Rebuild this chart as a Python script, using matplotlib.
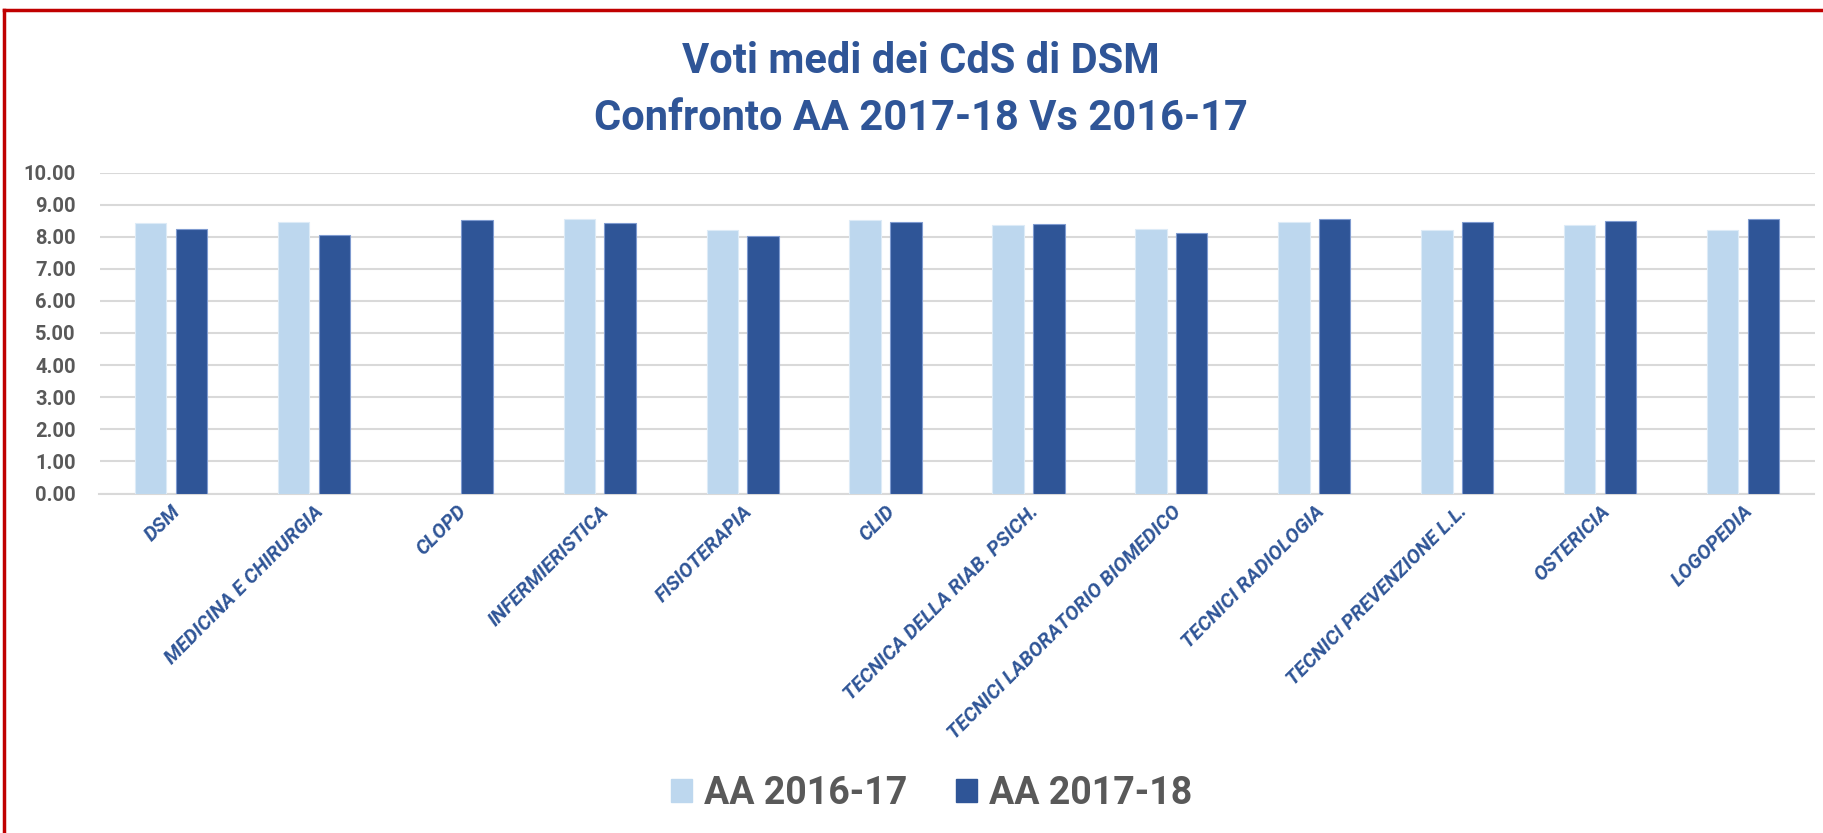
import matplotlib
matplotlib.use("Agg")
import matplotlib.pyplot as plt
import numpy as np
from matplotlib.lines import Line2D
from matplotlib.patches import Patch

categories = ["DSM", "MEDICINA E CHIRURGIA", "CLOPD", "INFERMIERISTICA", "FISIOTERAPIA",
              "CLID", "TECNICA DELLA RIAB. PSICH.", "TECNICI LABORATORIO BIOMEDICO",
              "TECNICI RADIOLOGIA", "TECNICI PREVENZIONE L.L.", "OSTERICIA", "LOGOPEDIA"]
aa_2016_17 = [8.42, 8.45, np.nan, 8.56, 8.21, 8.53, 8.35, 8.24, 8.45, 8.21, 8.35, 8.21]
aa_2017_18 = [8.24, 8.06, 8.53, 8.42, 8.03, 8.45, 8.39, 8.11, 8.56, 8.45, 8.49, 8.56]
yticks = [0, 1, 2, 3, 4, 5, 6, 7, 8, 9, 10]
series_names = ["AA 2016-17", "AA 2017-18"]
title = "Voti medi dei CdS di DSM\nConfronto AA 2017-18 Vs 2016-17"

LIGHT = "#BDD7EE"
DARK = "#2F5597"
GRAY = "#595959"
FONT = ["Roboto", "DejaVu Sans"]

fig = plt.figure(figsize=(18.23, 8.33), dpi=100)
ax = fig.add_axes([99.5 / 1823, 1 - 493.5 / 833, (1814.5 - 99.5) / 1823, (493.5 - 172.5) / 833])

x = np.arange(len(categories))
w = 0.22
off = 0.1425
ax.bar(x - off, aa_2016_17, width=w, color=LIGHT, edgecolor="#DDEBF7", linewidth=0.8, zorder=3)
ax.bar(x + off, aa_2017_18, width=w, color=DARK, edgecolor="#7F9BD0", linewidth=0.8, zorder=3)

ax.set_xlim(-0.5, len(categories) - 0.5)
ax.set_ylim(0, 10)
ax.set_yticks(yticks)
ax.set_yticklabels([f"{v:.2f}" for v in yticks], family=FONT, fontsize=14.5,
                   fontweight="bold", color=GRAY)
ax.yaxis.grid(True, color="#D9D9D9", linewidth=1.5, zorder=0)
ax.set_axisbelow(True)
for s in ["left", "right", "top"]:
    ax.spines[s].set_visible(False)
ax.spines["bottom"].set_color("#D9D9D9")
ax.spines["bottom"].set_linewidth(1.5)
ax.tick_params(axis="both", length=0)
ax.tick_params(axis="y", pad=17)

ax.set_xticks(x)
ax.set_xticklabels(categories, rotation=45, ha="right", rotation_mode="anchor",
                   family=FONT, fontsize=14.5, fontstyle="italic", fontweight="bold",
                   color=DARK)
ax.tick_params(axis="x", pad=6)

fig.text(0.505, 1 - 90 / 833, title, ha="center", va="center", family=FONT,
         fontsize=30, fontweight="bold", color=DARK, linespacing=1.5)

handles = [Patch(facecolor=LIGHT, edgecolor=LIGHT), Patch(facecolor=DARK, edgecolor=DARK)]
fig.legend(handles, series_names, loc="center", bbox_to_anchor=(0.511, 1 - 793 / 833),
           ncol=2, frameon=False, prop={"family": FONT, "size": 27, "weight": "bold"},
           labelcolor=GRAY, handlelength=0.56, handleheight=0.56, handletextpad=0.32,
           columnspacing=1.3)

fig.add_artist(Line2D([4 / 1823, 4 / 1823], [0, 1 - 10 / 833], transform=fig.transFigure,
                      color="#C00000", linewidth=2.5))
fig.add_artist(Line2D([4 / 1823, 1.0], [1 - 10 / 833, 1 - 10 / 833], transform=fig.transFigure,
                      color="#C00000", linewidth=2.5))

fig.savefig("out.png", dpi=100, facecolor="white")
